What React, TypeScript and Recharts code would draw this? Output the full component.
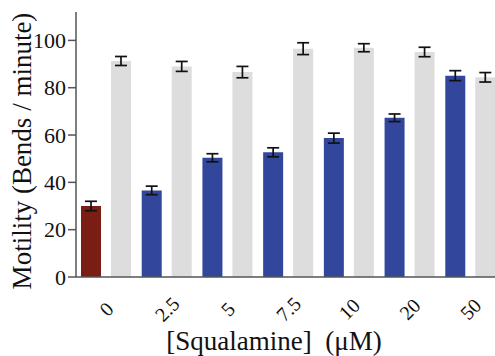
import React from "react";
import { BarChart, Bar, XAxis, YAxis, ErrorBar, Cell } from "recharts";

const concentrations = ["0", "2.5", "5", "7.5", "10", "20", "50"];
const treated = [30, 36.6, 50.4, 52.7, 58.7, 67.3, 85.1];
const treatedErr = [2, 1.8, 1.7, 1.9, 2.1, 1.6, 2.1];
const control = [91.3, 89, 86.6, 96.5, 96.9, 95.1, 84.4];
const controlErr = [1.9, 2.1, 2.4, 2.5, 1.7, 2, 2];
const yTicks = [0, 20, 40, 60, 80, 100];

const data = concentrations.map((c, i) => ({
  conc: c,
  treated: treated[i],
  treatedErr: treatedErr[i],
  control: control[i],
  controlErr: controlErr[i],
}));

const FONT = "Liberation Serif";
const TEXT = "#111";
const RED = "#7a1e13";
const BLUE = "#32479b";
const GREY = "#dddddd";

const XTick = (props: any) => {
  const { x, y, payload } = props;
  const cy = y + 30;
  return (
    <text
      x={x}
      y={cy}
      textAnchor="middle"
      dominantBaseline="central"
      transform={`rotate(-45 ${x} ${cy})`}
      style={{ fontFamily: FONT, fontSize: 20 }}
      fill={TEXT}
    >
      {payload.value}
    </text>
  );
};

const YTick = (props: any) => {
  const { x, y, payload } = props;
  return (
    <text
      x={x}
      y={y}
      textAnchor="end"
      dominantBaseline="central"
      style={{ fontFamily: FONT, fontSize: 22 }}
      fill={TEXT}
    >
      {payload.value}
    </text>
  );
};

export default function App() {
  return (
    <div
      style={{
        position: "absolute",
        left: 0,
        top: 0,
        width: 495,
        height: 356,
        overflow: "hidden",
        background: "#fff",
        fontFamily: FONT,
      }}
    >
      <BarChart
        width={501}
        height={356}
        data={data}
        margin={{ top: 12, right: 0, left: 0, bottom: 0 }}
        barSize={20}
        barGap={10}
        style={{ fontFamily: FONT }}
      >
        <XAxis
          dataKey="conc"
          height={79}
          tickLine={false}
          tickSize={0}
          axisLine={{ stroke: "#555", strokeWidth: 1.5 }}
          tick={<XTick />}
          interval={0}
          label={{
            content: () => (
              <text
                x={274}
                y={350}
                textAnchor="middle"
                style={{ fontFamily: FONT, fontSize: 27, whiteSpace: "pre" }}
                fill={TEXT}
              >
                {"[Squalamine]  (\u03bcM)"}
              </text>
            ),
          }}
        />
        <YAxis
          width={76}
          domain={[0, 112]}
          ticks={yTicks}
          tickSize={8}
          tickMargin={2}
          axisLine={{ stroke: "#555", strokeWidth: 1.5 }}
          tickLine={{ stroke: "#555", strokeWidth: 1.5 }}
          tick={<YTick />}
          label={{
            content: () => (
              <text
                x={22}
                y={151}
                textAnchor="middle"
                dominantBaseline="central"
                transform="rotate(-90 22 151)"
                style={{ fontFamily: FONT, fontSize: 27 }}
                fill={TEXT}
              >
                Motility (Bends / minute)
              </text>
            ),
          }}
        />
        <Bar dataKey="treated" isAnimationActive={false} fill={BLUE}>
          {data.map((d, i) => (
            <Cell key={d.conc} fill={i === 0 ? RED : BLUE} />
          ))}
          <ErrorBar dataKey="treatedErr" width={6} stroke="#111" strokeWidth={1.7} isAnimationActive={false} />
        </Bar>
        <Bar dataKey="control" isAnimationActive={false} fill={GREY}>
          <ErrorBar dataKey="controlErr" width={6} stroke="#111" strokeWidth={1.7} isAnimationActive={false} />
        </Bar>
      </BarChart>
    </div>
  );
}
